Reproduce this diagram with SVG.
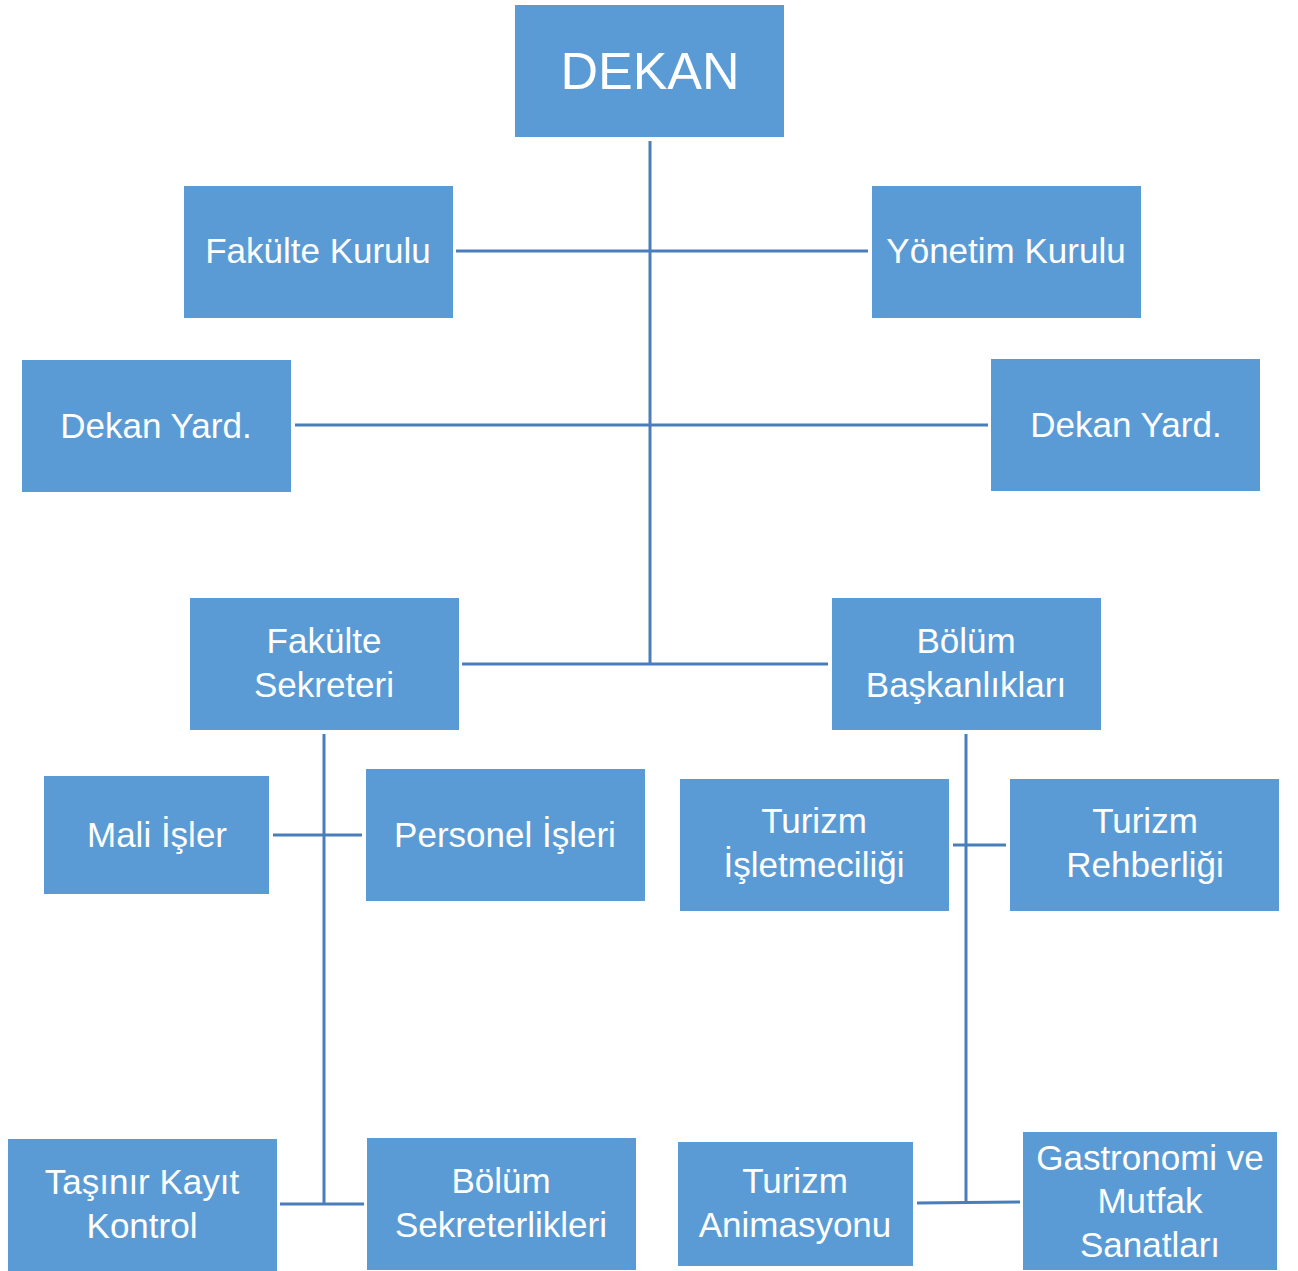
<svg xmlns="http://www.w3.org/2000/svg" width="1298" height="1271" viewBox="0 0 1298 1271">
<style>
.box{fill:#5b9bd5;}
.t{font-family:"Liberation Sans",Arial,sans-serif;font-size:35px;fill:#ffffff;text-anchor:middle;}
.big{font-size:52px;}
.c line{stroke:#4a7ebb;stroke-width:3;fill:none;}
</style>
<rect width="1298" height="1271" fill="#ffffff"/>
<g class="c" id="connectors">
<line x1="650" y1="141" x2="650" y2="665"/>
<line x1="456" y1="251" x2="868" y2="251"/>
<line x1="295" y1="425" x2="988" y2="425"/>
<line x1="462" y1="664" x2="828" y2="664"/>
<line x1="324" y1="734" x2="324" y2="1205"/>
<line x1="273" y1="835" x2="362" y2="835"/>
<line x1="280" y1="1204" x2="364" y2="1204"/>
<line x1="966" y1="734" x2="966" y2="1203"/>
<line x1="953" y1="845" x2="1006" y2="845"/>
<line x1="917" y1="1203" x2="1020" y2="1202"/>
</g>
<g id="dekan"><rect class="box" x="515" y="5" width="269" height="132"/><text class="t big" x="650" y="89">DEKAN</text></g>
<g id="fakulte-kurulu"><rect class="box" x="184" y="186" width="269" height="132"/><text class="t" x="318" y="263">Fakülte Kurulu</text></g>
<g id="yonetim-kurulu"><rect class="box" x="872" y="186" width="269" height="132"/><text class="t" x="1006" y="263">Yönetim Kurulu</text></g>
<g id="dekan-yard-1"><rect class="box" x="22" y="360" width="269" height="132"/><text class="t" x="156" y="438">Dekan Yard.</text></g>
<g id="dekan-yard-2"><rect class="box" x="991" y="359" width="269" height="132"/><text class="t" x="1126" y="437">Dekan Yard.</text></g>
<g id="fakulte-sekreteri"><rect class="box" x="190" y="598" width="269" height="132"/><text class="t" x="324" y="653">Fakülte</text><text class="t" x="324" y="697">Sekreteri</text></g>
<g id="bolum-baskanliklari"><rect class="box" x="832" y="598" width="269" height="132"/><text class="t" x="966" y="653">Bölüm</text><text class="t" x="966" y="697">Başkanlıkları</text></g>
<g id="mali-isler"><rect class="box" x="44" y="776" width="225" height="118"/><text class="t" x="157" y="847">Mali İşler</text></g>
<g id="personel-isleri"><rect class="box" x="366" y="769" width="279" height="132"/><text class="t" x="505" y="847">Personel İşleri</text></g>
<g id="turizm-isletmeciligi"><rect class="box" x="680" y="779" width="269" height="132"/><text class="t" x="814" y="833">Turizm</text><text class="t" x="814" y="877">İşletmeciliği</text></g>
<g id="turizm-rehberligi"><rect class="box" x="1010" y="779" width="269" height="132"/><text class="t" x="1145" y="833">Turizm</text><text class="t" x="1145" y="877">Rehberliği</text></g>
<g id="tasinir-kayit-kontrol"><rect class="box" x="8" y="1139" width="269" height="132"/><text class="t" x="142" y="1194">Taşınır Kayıt</text><text class="t" x="142" y="1238">Kontrol</text></g>
<g id="bolum-sekreterlikleri"><rect class="box" x="367" y="1138" width="269" height="132"/><text class="t" x="501" y="1193">Bölüm</text><text class="t" x="501" y="1237">Sekreterlikleri</text></g>
<g id="turizm-animasyonu"><rect class="box" x="678" y="1142" width="235" height="124"/><text class="t" x="795" y="1193">Turizm</text><text class="t" x="795" y="1237">Animasyonu</text></g>
<g id="gastronomi"><rect class="box" x="1023" y="1132" width="254" height="138"/><text class="t" x="1150" y="1170">Gastronomi ve</text><text class="t" x="1150" y="1213">Mutfak</text><text class="t" x="1150" y="1257">Sanatları</text></g>
</svg>
